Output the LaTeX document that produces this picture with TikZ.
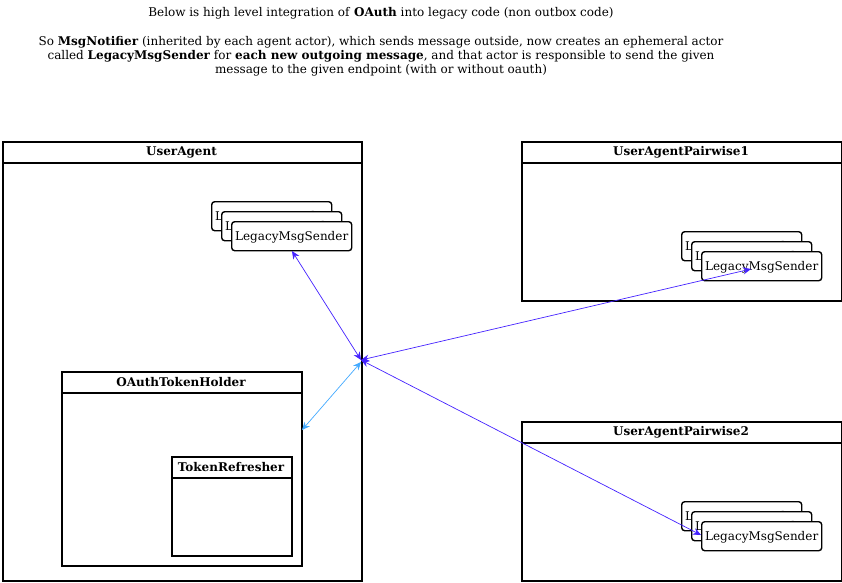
\documentclass[tikz,border=0pt]{standalone}
\usepackage{fontspec}
\setmainfont{DejaVu Serif}
\usetikzlibrary{arrows.meta}
\definecolor{linkblue}{HTML}{4422FF}
\definecolor{lightlink}{HTML}{44AAFF}
\tikzset{
  container/.style={draw=black, line width=1.6pt, fill=white, anchor=north west, inner sep=0pt},
  title/.style={font=\fontsize{12}{14}\selectfont\bfseries, anchor=center},
  sender/.style={draw=black, line width=1.4pt, fill=white, rounded corners=3pt, anchor=north west,
    minimum width=120pt, minimum height=29pt, inner sep=0pt, text height=12pt, text depth=2.8pt,
    font=\fontsize{12}{14}\selectfont},
  link/.style={draw=linkblue, line width=0.7pt, {Stealth[length=8pt,width=7pt]}-{Stealth[length=8pt,width=7pt]}},
  lightlinkstyle/.style={draw=lightlink, line width=0.7pt, {Stealth[length=8pt,width=7pt]}-{Stealth[length=8pt,width=7pt]}},
  note/.style={font=\fontsize{12}{14}\selectfont, align=center, anchor=north}
}
\begin{document}
\begin{tikzpicture}[x=1pt,y=-1pt]
\useasboundingbox (0,0) rectangle (842,582);
% text
\node[note] (t1) at (381,4) {Below is high level integration of \textbf{OAuth} into legacy code (non outbox code)};
\node[note] (t2) at (381,33) {So \textbf{MsgNotifier} (inherited by each agent actor), which sends message outside, now creates an ephemeral actor\\called \textbf{LegacyMsgSender} for \textbf{each new outgoing message}, and that actor is responsible to send the given\\message to the given endpoint (with or without oauth)};
% UserAgent
\node[container, minimum width=359pt, minimum height=439pt] (ua) at (2,141) {};
\draw[line width=1.6pt] (2,163) -- (361,163);
\node[title] (uat) at (181.5,152.5) {UserAgent};
% Pairwise1
\node[container, minimum width=320pt, minimum height=159pt] (p1) at (521,141) {};
\draw[line width=1.6pt] (521,163) -- (841,163);
\node[title] (p1t) at (681,152.5) {UserAgentPairwise1};
% Pairwise2
\node[container, minimum width=320pt, minimum height=159pt] (p2) at (521,421) {};
\draw[line width=1.6pt] (521,443) -- (841,443);
\node[title] (p2t) at (681,432.5) {UserAgentPairwise2};
% OAuthTokenHolder
\node[container, minimum width=240pt, minimum height=194pt] (oth) at (61,371) {};
\draw[line width=1.6pt] (61,393) -- (301,393);
\node[title] (otht) at (181,382.5) {OAuthTokenHolder};
% TokenRefresher
\node[container, minimum width=120pt, minimum height=99pt] (tr) at (171,456) {};
\draw[line width=1.6pt] (171,478) -- (291,478);
\node[title] (trt) at (231,467.5) {TokenRefresher};
% senders in UserAgent
\node[sender] (ls1) at (211,201) {LegacyMsgSender};
\node[sender] (ls2) at (221,211) {LegacyMsgSender};
\node[sender] (ls3) at (231,221) {LegacyMsgSender};
% senders in Pairwise1
\node[sender] (ps1) at (681,231) {LegacyMsgSender};
\node[sender] (ps2) at (691,241) {LegacyMsgSender};
\node[sender] (ps3) at (701,251) {LegacyMsgSender};
% senders in Pairwise2
\node[sender] (qs1) at (681,501) {LegacyMsgSender};
\node[sender] (qs2) at (691,511) {LegacyMsgSender};
\node[sender] (qs3) at (701,521) {LegacyMsgSender};
% connectors
\coordinate (hub) at (361,360);
\coordinate (hub2) at (361,362);
\coordinate (ta) at (292,251);
\coordinate (tb) at (751,269);
\coordinate (tc) at (701,535);
\coordinate (td) at (302,430);
\draw[link] (hub) -- (ta);
\draw[link] (hub) -- (tb);
\draw[link] (hub) -- (tc);
\draw[lightlinkstyle] (hub2) -- (td);
\end{tikzpicture}
\end{document}
